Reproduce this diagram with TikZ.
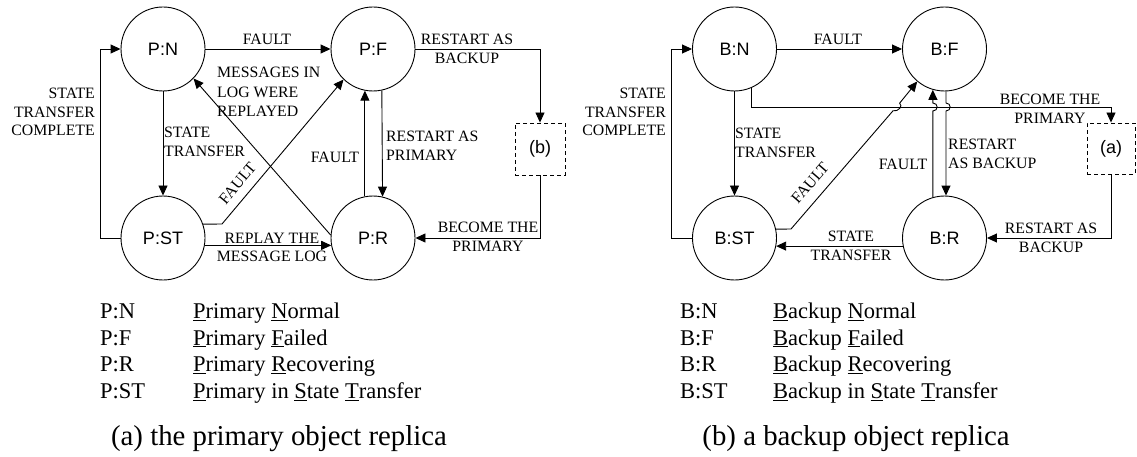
\documentclass[tikz,border=0pt]{standalone}
\usepackage{fontspec}
\setmainfont{Liberation Serif}
\newfontfamily\statefont{Liberation Sans}
\usetikzlibrary{arrows.meta}
\begin{document}
\begin{tikzpicture}[x=1pt,y=-1pt,
  state/.style={circle,draw,line width=0.9pt,minimum size=84pt,inner sep=0pt,font=\statefont\fontsize{18}{20}\selectfont},
  arr/.style={line width=0.9pt,-{Triangle[length=10pt,width=9pt]}},
  lbl/.style={inner sep=0pt,font=\fontsize{15.8}{19.5}\selectfont},
  dbox/.style={draw,dash pattern=on 4pt off 3pt,line width=0.9pt,minimum width=50pt,minimum height=52pt,inner sep=0pt,font=\statefont\fontsize{18}{20}\selectfont},
  leg/.style={anchor=base west,inner sep=0pt,font=\fontsize{22.5}{26}\selectfont},
  captxt/.style={anchor=base,inner sep=0pt,font=\fontsize{28.8}{32}\selectfont}]
\useasboundingbox (0,0) rectangle (1137,457);

% ---------- left diagram ----------
\node[state] (PN) at (163,49) {P:N};
\node[state] (PF) at (373,49) {P:F};
\node[state] (PST) at (163,238) {P:ST};
\node[state] (PR) at (373,238) {P:R};
\node[dbox] (bbox) at (540,149) {(b)};
\coordinate (lc) at (100,238);
\coordinate (lk) at (222,224);

\draw[arr] (PN) -- (PF);
\draw[arr] (PN.south) -- (PST.north);
\draw[arr] (PST.west) -- (lc) |- (PN.west);
\draw[arr] (PST.19.5) -- (lk) -- (PF.226);
\draw[arr] (PR.176) -- (PN.316);
\draw[arr] (PST.-10) -- (PR.190);
\draw[arr] (PR.101) -- (PF.259);
\draw[arr] (PF.282.4) -- (PR.77.6);
\draw[arr] (PF.east) -| (bbox.north);
\draw[arr] (bbox.south) |- (PR.east);

\node[lbl] (l1) at (267,39) {FAULT};
\node[lbl,anchor=west,align=left] (l2) at (217,92) {MESSAGES IN\\LOG WERE\\REPLAYED};
\node[lbl,anchor=west,align=left] (l3) at (164,142) {STATE\\TRANSFER};
\node[lbl,anchor=east,align=right,font=\fontsize{15.8}{18.5}\selectfont] (l4) at (95,112) {STATE\\TRANSFER\\COMPLETE};
\node[lbl,rotate=50] (l5) at (237.5,183.5) {FAULT};
\node[lbl] (l6) at (335,157) {FAULT};
\node[lbl,anchor=west,align=left] (l7) at (386,146) {RESTART AS\\PRIMARY};
\node[lbl,align=center,font=\fontsize{15.8}{18.5}\selectfont] (l8) at (272,247.5) {REPLAY THE\\MESSAGE LOG};
\node[lbl,align=center] (l9) at (467,49) {RESTART AS\\BACKUP};
\node[lbl,align=center] (l10) at (488,237) {BECOME THE\\PRIMARY};

% ---------- right diagram ----------
\node[state] (BN) at (734.5,49) {B:N};
\node[state] (BF) at (944.5,49) {B:F};
\node[state] (BST) at (734.5,238) {B:ST};
\node[state] (BR) at (944.5,238) {B:R};
\node[dbox,minimum width=48pt,minimum height=51pt] (abox) at (1111,148.5) {(a)};
\coordinate (rc) at (671,238);
\coordinate (ac) at (1111,107);
\coordinate (rk) at (791,229);

\draw[arr] (BN) -- (BF);
\draw[arr] (BN.south) -- (BST.north);
\draw[arr] (BST.west) -- (rc) |- (BN.west);
\draw[arr] (BN.293) |- (ac) -- (abox.north);
\draw[arr] (abox.south) |- (BR.east);
\draw[arr] (BR.191) -- (BST.349);
\draw[arr] (BR.106) -- (932.9,111) .. controls (938.5,111) and (938.5,103) .. (932.9,103) -- (BF.254);
\draw[arr] (BF.272) -- (946,103) .. controls (951.5,103) and (951.5,111) .. (946,111) -- (BR.88);
\draw[arr] (BST.12.4) -- (rk) -- (893,110.8) .. controls (898,112) and (903.5,106) .. (899.6,103.2) -- (BF.230.5);

\node[lbl] (r1) at (838,39) {FAULT};
\node[lbl,anchor=west,align=left] (r2) at (735,143) {STATE\\TRANSFER};
\node[lbl,anchor=east,align=right,font=\fontsize{15.8}{18.5}\selectfont] (r3) at (666,112) {STATE\\TRANSFER\\COMPLETE};
\node[lbl,rotate=49] (r4) at (810,183) {FAULT};
\node[lbl] (r5) at (903,164) {FAULT};
\node[lbl,anchor=west,align=left,font=\fontsize{15.8}{18.5}\selectfont] (r6) at (948,154) {RESTART\\AS BACKUP};
\node[lbl,align=center] (r7) at (1050,109) {BECOME THE\\PRIMARY};
\node[lbl,align=center,font=\fontsize{15.8}{18.5}\selectfont] (r8) at (851,246) {STATE\\TRANSFER};
\node[lbl,align=center] (r9) at (1051,238) {RESTART AS\\BACKUP};

% ---------- legends ----------
\node[leg] (a1) at (100,318.3) {P:N};
\node[leg] (a2) at (100,345) {P:F};
\node[leg] (a3) at (100,371.7) {P:R};
\node[leg] (a4) at (100,398.3) {P:ST};
\node[leg] (d1) at (193,318.3) {\underline{P}rimary \underline{N}ormal};
\node[leg] (d2) at (193,345) {\underline{P}rimary \underline{F}ailed};
\node[leg] (d3) at (193,371.7) {\underline{P}rimary \underline{R}ecovering};
\node[leg] (d4) at (193,398.3) {\underline{P}rimary in \underline{S}tate \underline{T}ransfer};

\node[leg] (b1) at (680,318.3) {B:N};
\node[leg] (b2) at (680,345) {B:F};
\node[leg] (b3) at (680,371.7) {B:R};
\node[leg] (b4) at (680,398.3) {B:ST};
\node[leg] (e1) at (773,318.3) {\underline{B}ackup \underline{N}ormal};
\node[leg] (e2) at (773,345) {\underline{B}ackup \underline{F}ailed};
\node[leg] (e3) at (773,371.7) {\underline{B}ackup \underline{R}ecovering};
\node[leg] (e4) at (773,398.3) {\underline{B}ackup in \underline{S}tate \underline{T}ransfer};

\node[captxt] (c1) at (279,445) {(a) the primary object replica};
\node[captxt] (c2) at (856,445) {(b) a backup object replica};
\end{tikzpicture}
\end{document}
